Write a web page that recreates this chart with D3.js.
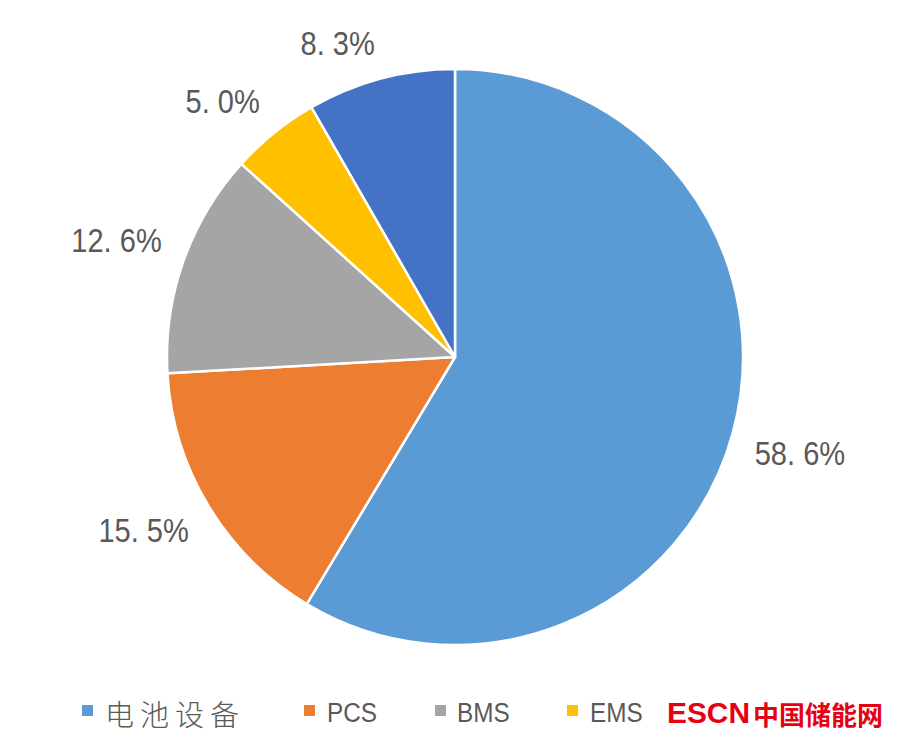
<!DOCTYPE html>
<html><head><meta charset="utf-8">
<script src="https://cdn.jsdelivr.net/npm/d3@7"></script>
<style>body{margin:0;background:#fff}</style>
</head><body>
<svg id="c" width="900" height="744"></svg>
<script>
const categories = ["电池设备", "PCS", "BMS", "EMS", "其他"];
const values = [58.6, 15.5, 12.6, 5.0, 8.3];
const labels = ["58. 6%", "15. 5%", "12. 6%", "5. 0%", "8. 3%"];
const colors = ["#5B9BD5", "#ED7D31", "#A5A5A5", "#FFC000", "#4472C4"];
const legendShown = ["电池设备", "PCS", "BMS", "EMS"];

const svg = d3.select("#c");
const cx = 455, cy = 357, r = 288;
const g = svg.append("g").attr("transform", `translate(${cx},${cy})`);
const data = categories.map((c, i) => ({c, v: values[i], l: labels[i], col: colors[i]}));
const pie = d3.pie().value(d => d.v).sort(null);
const arc = d3.arc().innerRadius(0).outerRadius(r);
const arcs = pie(data);
g.selectAll("path").data(arcs).enter().append("path")
  .attr("d", arc).attr("fill", d => d.data.col)
  .attr("stroke", "#fff").attr("stroke-width", 2.5).attr("stroke-linejoin", "round");

const font = "'Liberation Sans',Arial,sans-serif";
const lr = r + 23;
arcs.forEach(a => {
  const m = (a.startAngle + a.endAngle) / 2;
  const s = Math.sin(m), co = Math.cos(m);
  const t = g.append("text").text(a.data.l)
    .attr("font-family", font).attr("font-size", 33).attr("fill", "#595959")
    .attr("text-anchor", "middle").attr("dominant-baseline", "central");
  const w0 = t.node().getComputedTextLength();
  const w = w0 * 0.88, h = 26;
  t.attr("textLength", w).attr("lengthAdjust", "spacingAndGlyphs");
  const x = lr * s + Math.sign(s) * w / 2;
  const y = -lr * co - Math.sign(co) * h / 2;
  t.attr("x", x).attr("y", y);
});

// legend
const legendX = [82, 304, 435, 567];
const textX = [105, 327, 457, 590];
const lg = svg.append("g");
legendShown.forEach((name, i) => {
  lg.append("rect").attr("x", legendX[i]).attr("y", 705).attr("width", 11).attr("height", 11).attr("fill", colors[i]);
  const t = lg.append("text").attr("x", textX[i]).attr("y", 713).attr("dominant-baseline", "central")
    .attr("fill", "#595959").text(name);
  if (i === 0) {
    t.attr("font-family", "'Noto Sans CJK SC',sans-serif").attr("font-weight", 300)
      .attr("font-size", 29).attr("letter-spacing", 6);
  } else {
    t.attr("font-family", font).attr("font-size", 27);
    const w0 = t.node().getComputedTextLength();
    t.attr("textLength", w0 * 0.9).attr("lengthAdjust", "spacingAndGlyphs");
  }
});
// watermark
const wm = svg.append("g");
wm.append("text").attr("x", 667).attr("y", 713).attr("dominant-baseline", "central")
  .attr("font-family", font).attr("font-weight", "bold")
  .attr("font-size", 29).attr("fill", "#E60012")
  .attr("textLength", 83).attr("lengthAdjust", "spacingAndGlyphs").text("ESCN");
wm.append("text").attr("x", 753).attr("y", 713).attr("dominant-baseline", "central")
  .attr("font-family", "'Noto Sans CJK SC',sans-serif").attr("font-weight", "bold")
  .attr("font-size", 26).attr("fill", "#E60012")
  .attr("textLength", 130).attr("lengthAdjust", "spacingAndGlyphs").text("中国储能网");
</script>
</body></html>
